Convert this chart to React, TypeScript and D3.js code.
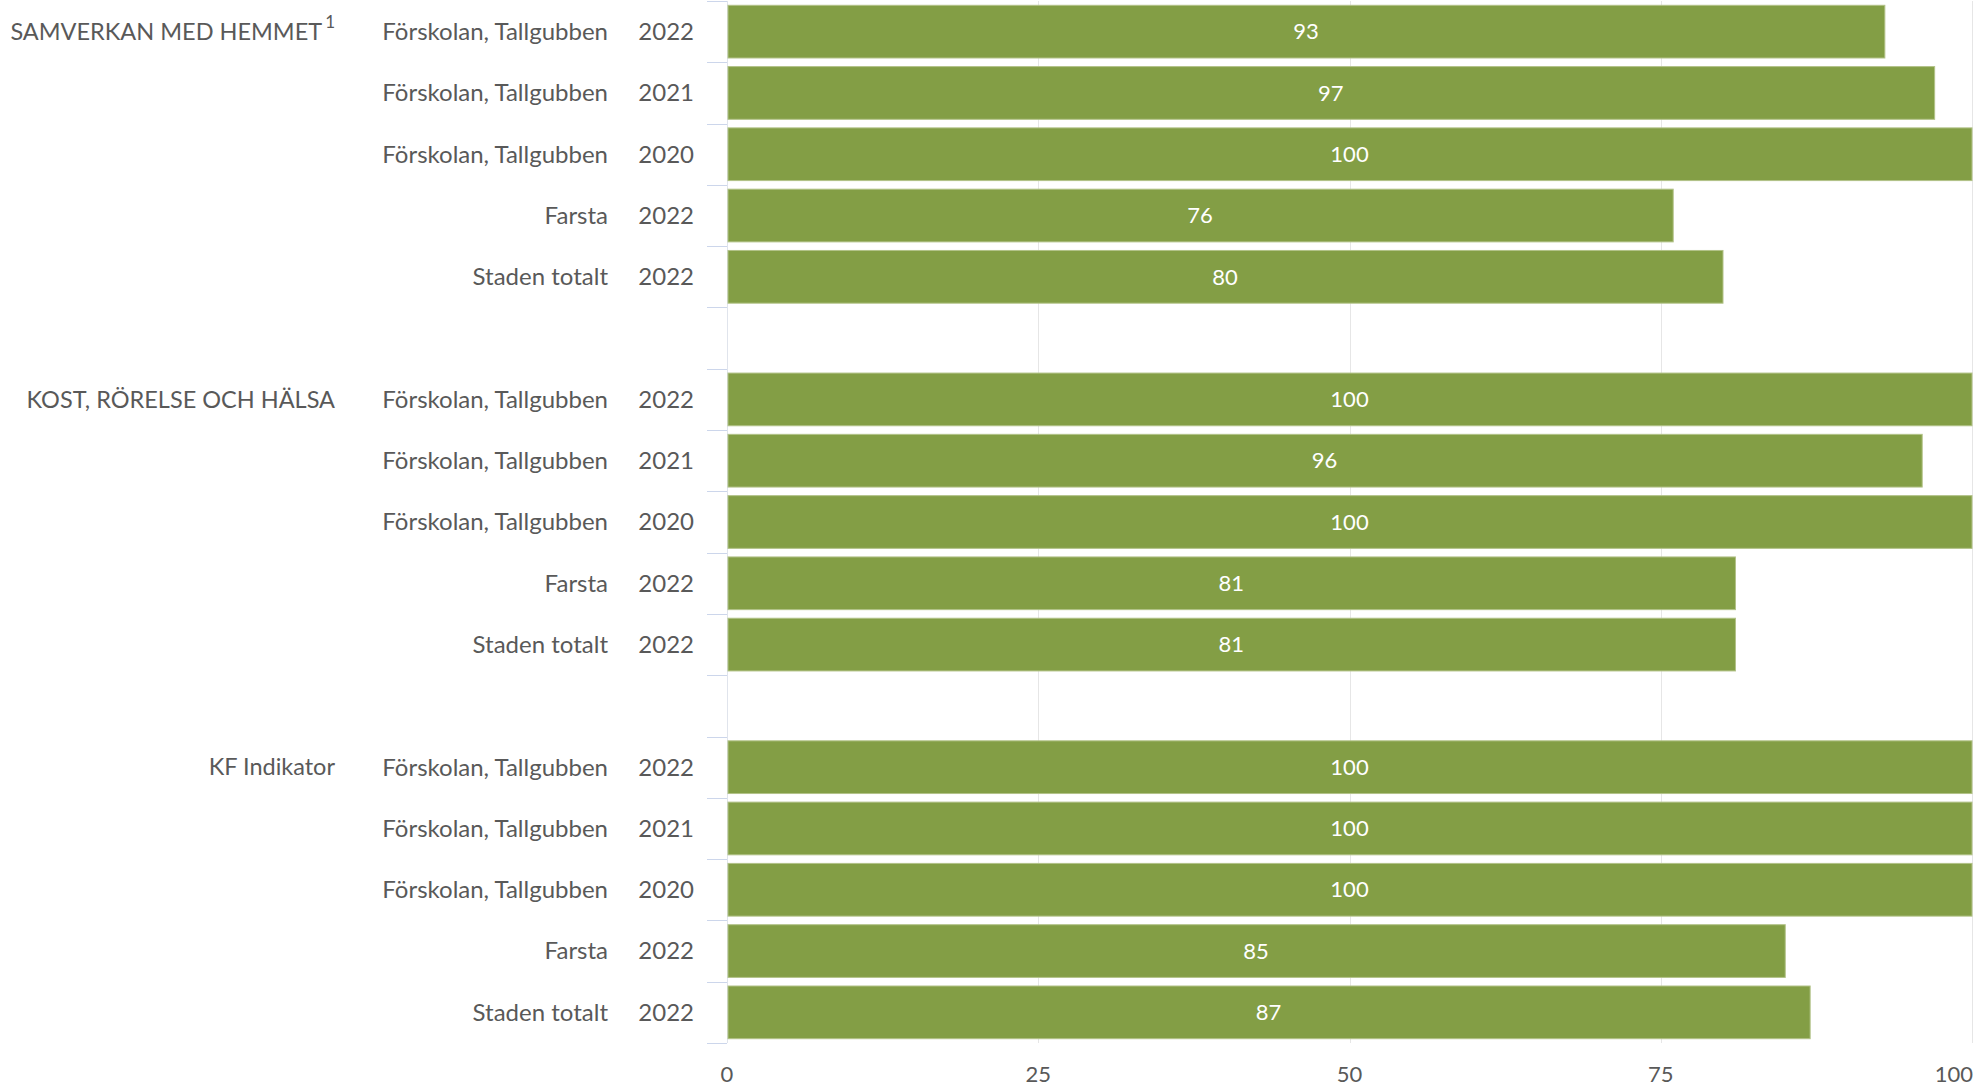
import React from "react";
import * as d3 from "d3";

const groups = ["SAMVERKAN MED HEMMET", "KOST, RÖRELSE OCH HÄLSA", "KF Indikator"];
const groupNotes = ["1", "", ""];
const units = ["Förskolan, Tallgubben", "Förskolan, Tallgubben", "Förskolan, Tallgubben", "Farsta", "Staden totalt"];
const years = ["2022", "2021", "2020", "2022", "2022"];
const samverkanValues = [93, 97, 100, 76, 80];
const kostValues = [100, 96, 100, 81, 81];
const kfValues = [100, 100, 100, 85, 87];
const groupValues = [samverkanValues, kostValues, kfValues];
const xTicks = [0, 25, 50, 75, 100];

const W = 1975;
const H = 1088;
const FONT = "Lato, 'Open Sans', sans-serif";
const TEXT = "#595959";
const BAR = "#839e45";

type Row = { key: string; group?: string; note?: string; unit?: string; year?: string; value?: number };

const rows: Row[] = [];
groups.forEach((g, gi) => {
  if (gi > 0) rows.push({ key: `gap${gi}` });
  units.forEach((u, i) => {
    rows.push({
      key: `${gi}-${i}`,
      group: i === 0 ? g : undefined,
      note: i === 0 ? groupNotes[gi] : undefined,
      unit: u,
      year: years[i],
      value: groupValues[gi][i],
    });
  });
});

export default function App() {
  const left = 727;
  const right = 1972;
  const top = 1;
  const bottom = 1043;
  const x = d3.scaleLinear().domain([0, 100]).range([left, right]);
  const y = d3
    .scaleBand<string>()
    .domain(rows.map((r) => r.key))
    .range([top, bottom])
    .paddingInner(0.14)
    .paddingOuter(0.07);
  const step = y.step();
  const boundaries = d3.range(rows.length + 1).map((i) => top + i * step);

  return (
    <div style={{ position: "absolute", left: 0, top: 0 }}>
      <svg width={W} height={H} style={{ display: "block", background: "#fff" }} fontFamily={FONT}>
        {xTicks.slice(1).map((t) => (
          <line key={`g${t}`} x1={Math.round(x(t)) + 0.5} x2={Math.round(x(t)) + 0.5} y1={top} y2={bottom} stroke="#e6e6e6" strokeWidth={1} />
        ))}
        <line x1={left + 0.5} x2={left + 0.5} y1={top} y2={bottom} stroke="#e0e4ec" strokeWidth={1} />
        {boundaries.map((b, i) => (
          <line key={`t${i}`} x1={left - 20} x2={left} y1={Math.round(b) + 0.5} y2={Math.round(b) + 0.5} stroke="#ccd6eb" strokeWidth={1} />
        ))}
        {rows.map((r) =>
          r.value === undefined ? null : (
            <rect
              key={`b${r.key}`}
              x={x(0) + 1}
              y={y(r.key)!}
              width={x(r.value) - x(0) - 1}
              height={y.bandwidth()}
              fill={BAR}
              stroke="#b2c288"
              strokeWidth={1}
            />
          )
        )}
        {rows.map((r) =>
          r.value === undefined ? null : (
            <text
              key={`v${r.key}`}
              x={(x(0) + x(r.value)) / 2}
              y={y(r.key)! + y.bandwidth() / 2}
              dy="0.35em"
              textAnchor="middle"
              fill="#ffffff"
              fontSize={22}
            >
              {r.value}
            </text>
          )
        )}
        {rows.map((r) =>
          r.unit === undefined ? null : (
            <g key={`l${r.key}`}>
              <text x={608} y={y(r.key)! + y.bandwidth() / 2} dy="0.35em" textAnchor="end" fill={TEXT} fontSize={24}>
                {r.unit}
              </text>
              <text x={694} y={y(r.key)! + y.bandwidth() / 2} dy="0.35em" textAnchor="end" fill={TEXT} fontSize={24}>
                {r.year}
              </text>
              {r.group && (
                <text x={335} y={y(r.key)! + y.bandwidth() / 2} dy="0.35em" textAnchor="end" fill={TEXT} fontSize={23.5}>
                  {r.group}
                  {r.note ? (
                    <tspan dx={3} dy="-0.7em" fontSize={17}>
                      {r.note}
                    </tspan>
                  ) : null}
                </text>
              )}
            </g>
          )
        )}
        {xTicks.map((t, i) => (
          <text
            key={`xl${t}`}
            x={i === xTicks.length - 1 ? W - 2 : x(t)}
            y={1074}
            dy="0.35em"
            textAnchor={i === xTicks.length - 1 ? "end" : "middle"}
            fill={TEXT}
            fontSize={22}
          >
            {t}
          </text>
        ))}
      </svg>
    </div>
  );
}
